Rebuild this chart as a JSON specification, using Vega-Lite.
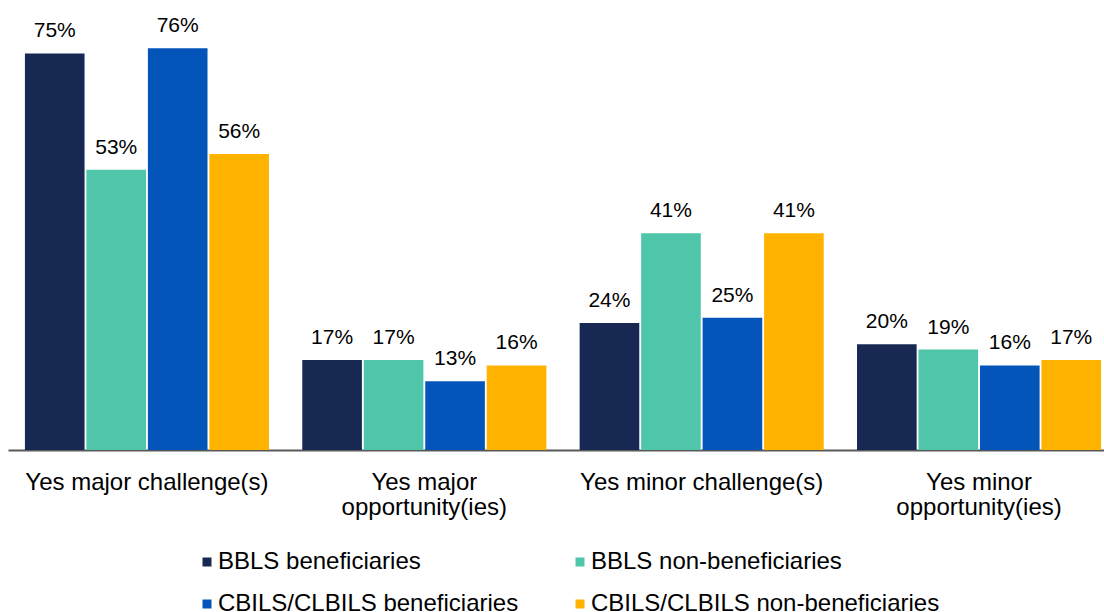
{
  "$schema": "https://vega.github.io/schema/vega-lite/v6.json",
  "autosize": {"type": "none"},
  "width": 1110,
  "height": 423,
  "padding": {"left": 8, "top": 27, "right": 0, "bottom": 162},
  "background": "white",
  "config": {"font": "Liberation Sans", "view": {"stroke": null}},
  "data": {"values": [
    {"cat": "Yes major challenge(s)", "series": "BBLS beneficiaries", "v": 0.75},
    {"cat": "Yes major challenge(s)", "series": "BBLS non-beneficiaries", "v": 0.53},
    {"cat": "Yes major challenge(s)", "series": "CBILS/CLBILS beneficiaries", "v": 0.76},
    {"cat": "Yes major challenge(s)", "series": "CBILS/CLBILS non-beneficiaries", "v": 0.56},
    {"cat": "Yes major opportunity(ies)", "series": "BBLS beneficiaries", "v": 0.17},
    {"cat": "Yes major opportunity(ies)", "series": "BBLS non-beneficiaries", "v": 0.17},
    {"cat": "Yes major opportunity(ies)", "series": "CBILS/CLBILS beneficiaries", "v": 0.13},
    {"cat": "Yes major opportunity(ies)", "series": "CBILS/CLBILS non-beneficiaries", "v": 0.16},
    {"cat": "Yes minor challenge(s)", "series": "BBLS beneficiaries", "v": 0.24},
    {"cat": "Yes minor challenge(s)", "series": "BBLS non-beneficiaries", "v": 0.41},
    {"cat": "Yes minor challenge(s)", "series": "CBILS/CLBILS beneficiaries", "v": 0.25},
    {"cat": "Yes minor challenge(s)", "series": "CBILS/CLBILS non-beneficiaries", "v": 0.41},
    {"cat": "Yes minor opportunity(ies)", "series": "BBLS beneficiaries", "v": 0.20},
    {"cat": "Yes minor opportunity(ies)", "series": "BBLS non-beneficiaries", "v": 0.19},
    {"cat": "Yes minor opportunity(ies)", "series": "CBILS/CLBILS beneficiaries", "v": 0.16},
    {"cat": "Yes minor opportunity(ies)", "series": "CBILS/CLBILS non-beneficiaries", "v": 0.17}
  ]},
  "encoding": {
    "x": {"field": "cat", "type": "nominal", "sort": null, "title": null,
      "scale": {"paddingInner": 0.12, "paddingOuter": 0.061},
      "axis": {"labelAngle": 0, "ticks": false, "domainColor": "#595959", "domainWidth": 2,
        "labelFontSize": 24, "labelColor": "#000000", "labelPadding": 20, "labelLineHeight": 25,
        "labelBaseline": "top", "labelLimit": 0,
        "labelExpr": "length(datum.label) > 23 ? [slice(datum.label, 0, 9), slice(datum.label, 10)] : datum.label"}},
    "xOffset": {"field": "series", "type": "nominal", "sort": null, "scale": {"paddingInner": 0.03}},
    "y": {"field": "v", "type": "quantitative", "scale": {"domain": [0, 0.8]}, "axis": null}
  },
  "layer": [
    {"mark": {"type": "bar"},
      "encoding": {"color": {"field": "series", "type": "nominal", "sort": null,
        "scale": {"domain": ["BBLS beneficiaries", "BBLS non-beneficiaries", "CBILS/CLBILS beneficiaries", "CBILS/CLBILS non-beneficiaries"],
                  "range": ["#172952", "#4FC6A9", "#0455B9", "#FFB300"]},
        "legend": {"title": null, "orient": "none", "legendX": 187, "legendY": 523, "direction": "horizontal", "columns": 2,
          "symbolType": "square", "symbolSize": 81, "labelFontSize": 24, "labelColor": "#000000", "labelLimit": 0,
          "columnPadding": 49, "rowPadding": 18, "symbolOffset": 0, "labelOffset": -1, "padding": 0}}}},
    {"mark": {"type": "text", "baseline": "alphabetic", "dy": -16, "fontSize": 21, "color": "#000000"},
      "encoding": {"text": {"field": "v", "type": "quantitative", "format": ".0%"}}}
  ]
}
